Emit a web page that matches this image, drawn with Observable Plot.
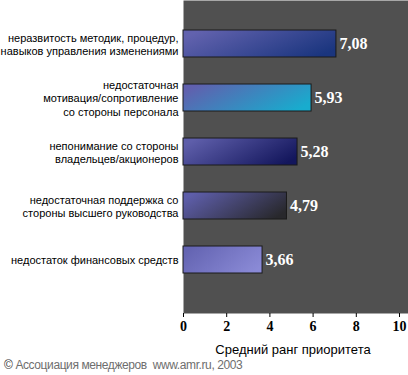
<!DOCTYPE html>
<html><head><meta charset="utf-8">
<script src="https://cdn.jsdelivr.net/npm/d3@7"></script>
<script src="https://cdn.jsdelivr.net/npm/@observablehq/plot@0.6"></script>
<style>
body{margin:0;background:#fff;}
#cap{font:12px "Liberation Sans",Arial,sans-serif;color:#6e6e6e;padding-left:4px;height:19px;line-height:19px;white-space:nowrap;letter-spacing:-0.4px;}
#cap b{color:#333;font-weight:normal;}
</style>
</head><body><div id="chart"></div><div id="cap"><b>©</b> Ассоциация менеджеров &nbsp;www.amr.ru, 2003</div>
<script>
const categories = [
  "неразвитость методик, процедур,\nнавыков управления изменениями",
  "недостаточная\nмотивация/сопротивление\nсо стороны персонала",
  "непонимание со стороны\nвладельцев/акционеров",
  "недостаточная поддержка со\nстороны высшего руководства",
  "недостаток финансовых средств"
];
const values = [7.08, 5.93, 5.28, 4.79, 3.66];
const valueLabels = ["7,08", "5,93", "5,28", "4,79", "3,66"];
const gradStart = ["#6262ae", "#6060ae", "#5e5eaa", "#5e5eaa", "#6464b2"];
const gradEnd = ["#1a357e", "#18acce", "#13165c", "#28282c", "#8a8ad6"];
const xTicks = [0, 2, 4, 6, 8, 10];
const axisTitle = "Средний ранг приоритета";

const data = categories.map((c, i) => ({c, v: values[i], label: valueLabels[i], g: `url(#grad${i})`}));

const gradientDefs = () => {
  const g = d3.create("svg:g");
  const defs = g.append("defs");
  gradStart.forEach((s, i) => {
    const lg = defs.append("linearGradient").attr("id", `grad${i}`)
      .attr("x1", "0").attr("y1", "0.3").attr("x2", "1").attr("y2", "0.7");
    lg.append("stop").attr("offset", "0").attr("stop-color", s);
    lg.append("stop").attr("offset", "1").attr("stop-color", gradEnd[i]);
  });
  return g.node();
};

const serif = '"Liberation Serif","Times New Roman",serif';
const sans = '"Liberation Sans",Arial,sans-serif';

const chart = Plot.plot({
  width: 408,
  height: 356,
  marginLeft: 183,
  marginRight: 0,
  marginTop: 0,
  marginBottom: 43,
  style: {background: "#fff", overflow: "visible"},
  x: {domain: [0, 10], range: [183, 399]},
  y: {type: "band", domain: categories, range: [3, 300], padding: 0.5, axis: null},
  color: {type: "identity"},
  marks: [
    Plot.frame({fill: "#505050", stroke: null}),
    gradientDefs,
    Plot.barX(data, {x: "v", y: "c", fill: "g", stroke: "#1a1a1a", strokeWidth: 1}),
    Plot.text(data, {x: "v", y: "c", text: "label", dx: 3, textAnchor: "start", fill: "white",
      fontSize: 16, fontWeight: "bold", fontFamily: serif}),
    Plot.text(data, {y: "c", text: "c", frameAnchor: "left", textAnchor: "end", dx: -5,
      lineAnchor: "middle", lineHeight: 1.25, fontSize: 11, fill: "black", fontFamily: sans}),
    Plot.axisX({ticks: xTicks, tickSize: 4, tickPadding: 4, fontSize: 14, fontWeight: "bold",
      fontFamily: serif, stroke: "black", fill: "black", label: null, tickFormat: d => String(d)}),
    Plot.text([axisTitle], {text: d => d, frameAnchor: "bottom", dx: -3, dy: 36, lineAnchor: "middle",
      fontSize: 13, fontFamily: sans, fill: "black"})
  ]
});
document.getElementById("chart").appendChild(chart);
</script>
</body></html>
